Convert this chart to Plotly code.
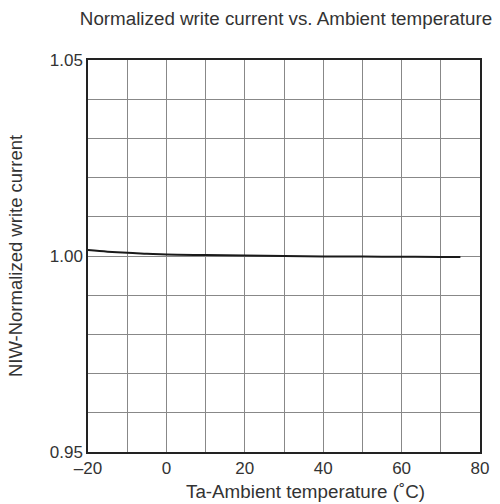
import plotly.graph_objects as go

temps = [-20, -15, -10, -5, 0, 10, 20, 30, 40, 50, 60, 70, 75]
niw = [1.0015, 1.0011, 1.0008, 1.0006, 1.0004, 1.00025, 1.00012, 1.0000, 0.9999, 0.99985, 0.9998, 0.99975, 0.99975]

x_ticks = [-20, 0, 20, 40, 60, 80]
x_ticktext = ["\u201320", "0", "20", "40", "60", "80"]
x_grid = [-10, 10, 30, 50, 70]
y_ticks = [0.95, 1.00, 1.05]
y_ticktext = ["0.95", "1.00", "1.05"]
y_grid = [0.96, 0.97, 0.98, 0.99, 1.01, 1.02, 1.03, 1.04]

fig = go.Figure()
fig.add_trace(go.Scatter(x=temps, y=niw, mode="lines", line=dict(color="#1a1a1a", width=2, shape="spline"),
                         showlegend=False, hoverinfo="skip"))

fam = "Liberation Sans, Arial, sans-serif"
fig.update_layout(
    width=500, height=504,
    margin=dict(l=88, r=20, t=60, b=52),
    paper_bgcolor="white", plot_bgcolor="white",
    font=dict(family=fam, size=17, color="#333333"),
    title=dict(text="Normalized write current vs. Ambient temperature", x=0.572, xanchor="center",
               y=0.963, yanchor="middle", font=dict(size=18.8, color="#333333")),
    xaxis=dict(range=[-20, 80], tickvals=x_ticks, ticktext=x_ticktext,
               showgrid=True, gridcolor="#888888", gridwidth=1,
               minor=dict(tickvals=x_grid, showgrid=True, gridcolor="#888888", gridwidth=1, ticks=""),
               showline=True, linecolor="#222222", linewidth=1.5, mirror=True,
               ticks="", zeroline=False),
    yaxis=dict(range=[0.95, 1.05], tickvals=y_ticks, ticktext=y_ticktext,
               showgrid=True, gridcolor="#888888", gridwidth=1,
               minor=dict(tickvals=y_grid, showgrid=True, gridcolor="#888888", gridwidth=1, ticks=""),
               showline=True, linecolor="#222222", linewidth=1.5, mirror=True,
               ticks="", zeroline=False,
               title=dict(text="NIW-Normalized write current", standoff=22, font=dict(size=18.5, color="#333333"))),
    annotations=[dict(text="Ta-Ambient temperature (\u02daC)", xref="paper", yref="paper",
                      x=0.554, y=-0.102, xanchor="center", yanchor="middle", showarrow=False,
                      font=dict(size=18.8, color="#333333"))],
)
fig.write_html("out.html")
